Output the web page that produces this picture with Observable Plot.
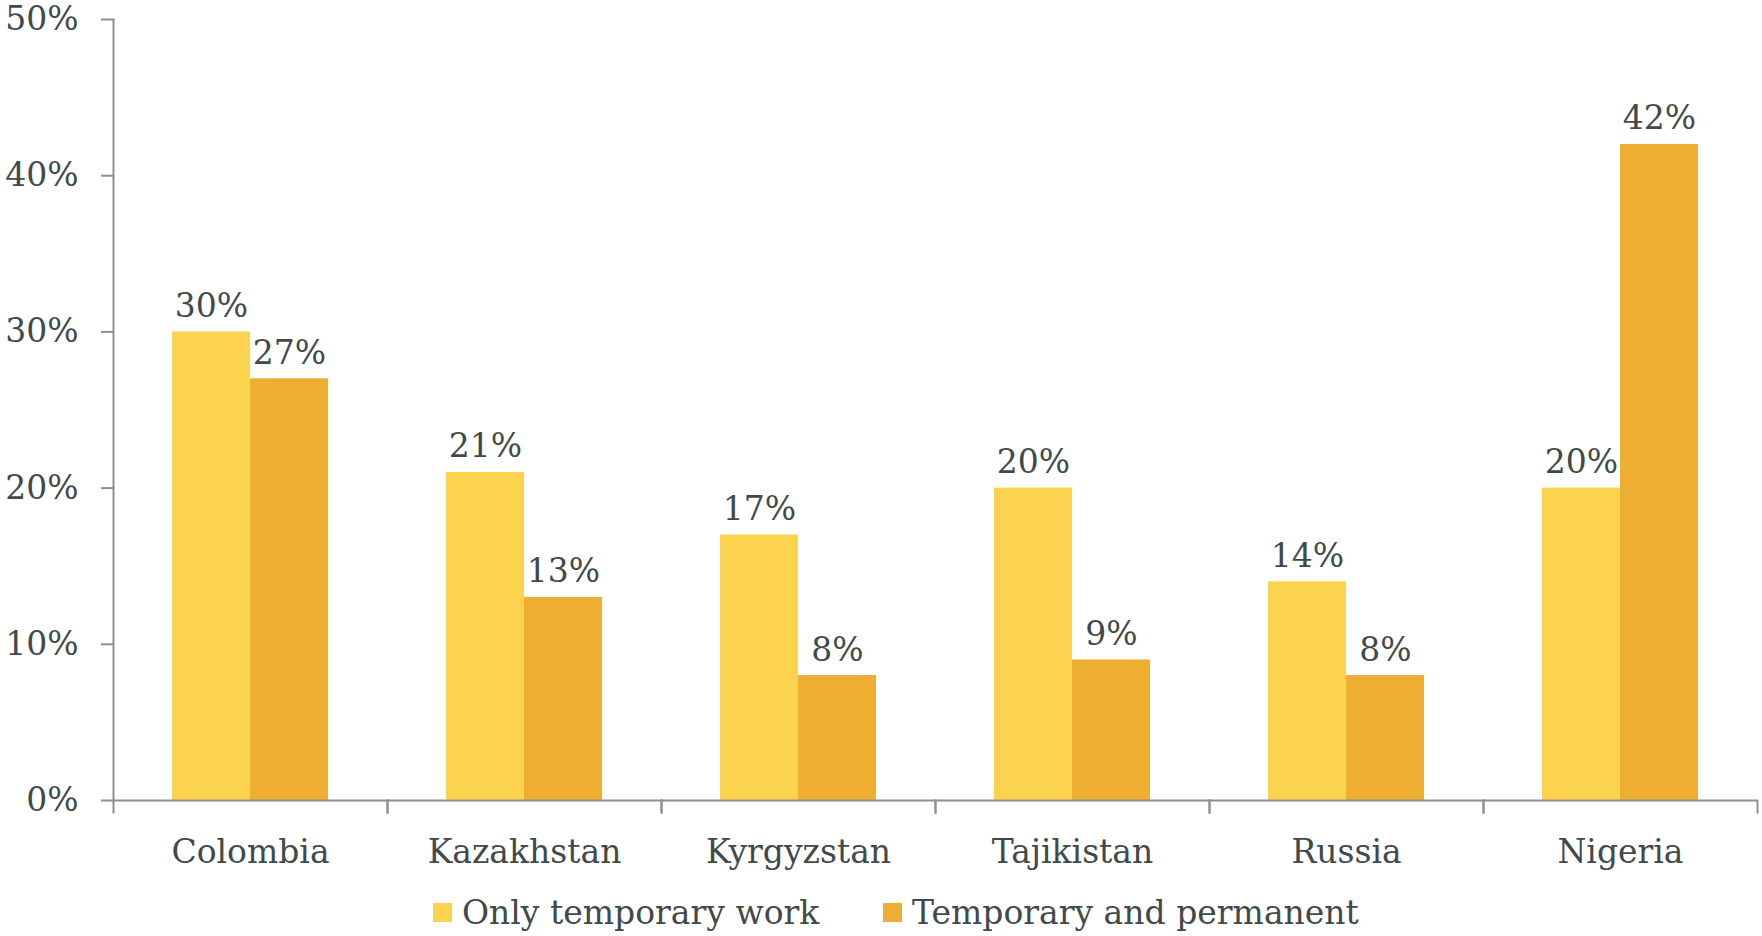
<!DOCTYPE html>
<html><head><meta charset="utf-8">
<script src="https://cdn.jsdelivr.net/npm/d3@7"></script>
<script src="https://cdn.jsdelivr.net/npm/@observablehq/plot@0.6"></script>
<style>
body{margin:0;background:#fff;}
#legend{position:relative;height:54px;font-family:"DejaVu Serif";font-size:33px;color:#414a4a;}
.item{position:absolute;top:0;height:54px;display:flex;align-items:center;white-space:nowrap;}
.sw{width:19px;height:19px;margin-right:10px;}
</style></head><body><div id="chart"></div><div id="legend"></div>
<script>
const countries = ["Colombia","Kazakhstan","Kyrgyzstan","Tajikistan","Russia","Nigeria"];
const seriesNames = ["Only temporary work","Temporary and permanent"];
const onlyTemporary = [30,21,17,20,14,20];
const temporaryPermanent = [27,13,8,9,8,42];
const yTicks = [0,10,20,30,40,50];
const colors = ["#fcd34f","#edae31"];
const legendLeft = [433, 883];

const data = countries.flatMap((c,i)=>[
  {country:c, series:seriesNames[0], value:onlyTemporary[i]},
  {country:c, series:seriesNames[1], value:temporaryPermanent[i]}
]);

const W=1762,H=885,mt=19,mb=85,ml=113,mr=5;
const axisGray="#8f8f8f", textColor="#414a4a";

const chart = Plot.plot({
  width:W,height:H,marginTop:mt,marginBottom:mb,marginLeft:ml,marginRight:mr,
  style:{fontFamily:"DejaVu Serif",fontSize:"33px",color:textColor,background:"#fff"},
  fx:{domain:countries,padding:0,label:null},
  x:{domain:seriesNames,paddingInner:0,paddingOuter:0.756,axis:null},
  y:{domain:[0,50]},
  color:{domain:seriesNames,range:colors},
  marks:[
    Plot.barY(data,{fx:"country",x:"series",y:"value",fill:"series"}),
    Plot.ruleY([0],{stroke:axisGray,strokeWidth:2}),
    Plot.frame({anchor:"left",stroke:axisGray,strokeWidth:2,facetAnchor:"left"}),
    Plot.frame({anchor:"left",stroke:axisGray,strokeWidth:2,insetTop:H-mt-mb,insetBottom:-12}),
    Plot.frame({anchor:"right",stroke:axisGray,strokeWidth:2,insetTop:H-mt-mb,insetBottom:-12}),
    Plot.axisY({ticks:yTicks,tickFormat:d=>d+"%",tickSize:12,tickPadding:23,stroke:axisGray,strokeWidth:2,fill:textColor,label:null}),
    Plot.axisFx({anchor:"bottom",tickSize:0,tickPadding:39,label:null,fill:textColor}),
    Plot.text(data,{fx:"country",x:"series",y:"value",text:d=>d.value+"%",lineAnchor:"bottom",dy:-15,fill:textColor})
  ]
});
document.getElementById("chart").appendChild(chart);

const legend = document.getElementById("legend");
seriesNames.forEach((s,i)=>{
  const it = document.createElement("div");
  it.className="item";
  it.style.left = legendLeft[i]+"px";
  const sw = document.createElement("div");
  sw.className="sw"; sw.style.background=colors[i];
  const tx = document.createElement("span");
  tx.textContent = s;
  it.appendChild(sw); it.appendChild(tx);
  legend.appendChild(it);
});
</script></body></html>
